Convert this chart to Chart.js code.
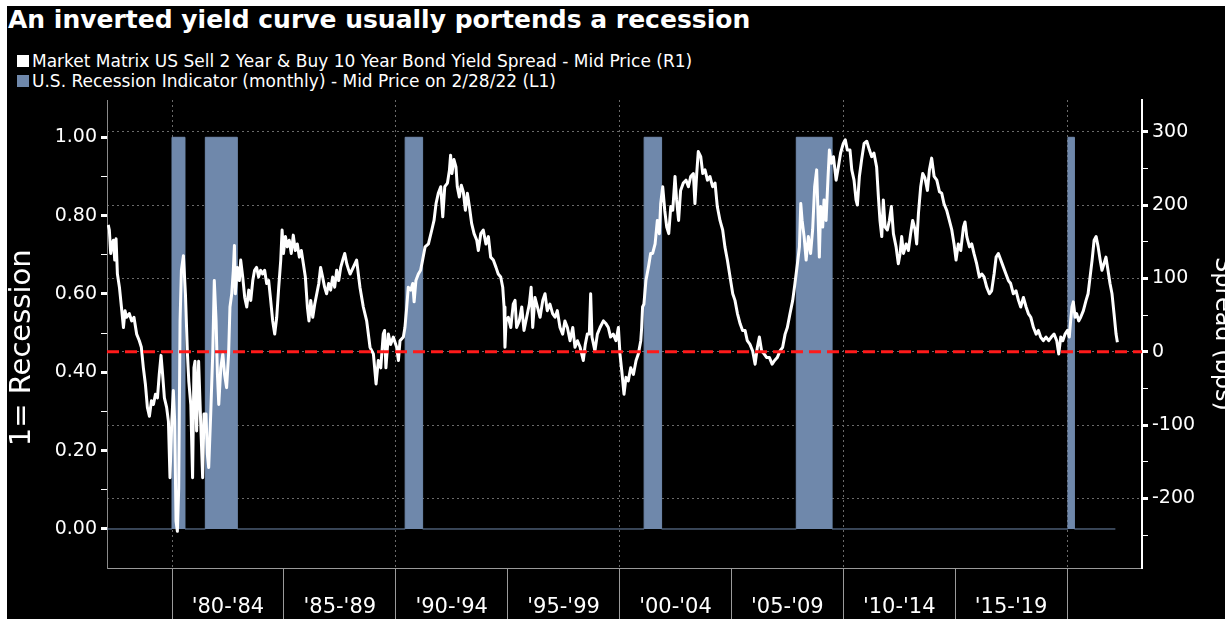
<!DOCTYPE html>
<html>
<head>
<meta charset="utf-8">
<script src="https://cdn.jsdelivr.net/npm/chart.js@4.4.1/dist/chart.umd.min.js"></script>
<style>
    html, body { margin: 0; padding: 0; background: #fff; overflow: hidden; }
    #frame { position: absolute; left: 7px; top: 6px; width: 1218px; height: 613px; background: #000; overflow: hidden; }
    #title { position: absolute; left: 1px; top: -1px; color: #fff; font: bold 25px "DejaVu Sans", sans-serif; line-height: 30px; white-space: nowrap; }
    .legend-row { position: absolute; left: 10px; color: #fff; font: 17px "DejaVu Sans", sans-serif; line-height: 20px; white-space: nowrap; }
    .legend-row .box { display: inline-block; width: 12px; height: 12px; margin-right: 3px; }
    #chart { position: absolute; left: 0; top: 0; }
</style>
</head>
<body>
<div id="frame">
    <div id="title">An inverted yield curve usually portends a recession</div>
    <div class="legend-row" style="top:45px"><span class="box" style="background:#fff"></span>Market Matrix US Sell 2 Year &amp; Buy 10 Year Bond Yield Spread - Mid Price (R1)</div>
    <div class="legend-row" style="top:65px"><span class="box" style="background:#6f88ab"></span>U.S. Recession Indicator (monthly) - Mid Price on 2/28/22 (L1)</div>
    <canvas id="chart" width="1218" height="613"></canvas>
</div>
<script>
// 2s10s spread (bps)
const spreadYears = [
    1977.15, 1977.20, 1977.26, 1977.32, 1977.38, 1977.44, 1977.50, 1977.56, 1977.65, 1977.74, 1977.83, 1977.90, 1977.97,
    1978.09, 1978.20, 1978.30, 1978.42, 1978.54, 1978.63, 1978.72, 1978.81, 1978.90, 1978.99,
    1979.08, 1979.17, 1979.26, 1979.35, 1979.43, 1979.51, 1979.58, 1979.66, 1979.76, 1979.84, 1979.91, 1979.99,
    1980.06, 1980.12, 1980.18, 1980.24, 1980.30, 1980.36, 1980.42, 1980.51, 1980.60, 1980.69, 1980.75, 1980.84, 1980.92, 1980.98,
    1981.03, 1981.10, 1981.19, 1981.28, 1981.37, 1981.43, 1981.52, 1981.58, 1981.64, 1981.73, 1981.82, 1981.89, 1981.97,
    1982.03, 1982.09, 1982.18, 1982.27, 1982.35, 1982.44, 1982.53, 1982.59, 1982.67, 1982.74, 1982.79, 1982.83, 1982.92,
    1983.01, 1983.07, 1983.16, 1983.25, 1983.34, 1983.43, 1983.52, 1983.61, 1983.69, 1983.78, 1983.87, 1983.96,
    1984.05, 1984.14, 1984.23, 1984.32, 1984.41, 1984.50, 1984.59, 1984.68, 1984.77, 1984.86, 1984.92, 1984.98,
    1985.07, 1985.15, 1985.24, 1985.33, 1985.42, 1985.51, 1985.60, 1985.69, 1985.78, 1985.87, 1985.96,
    1986.05, 1986.12, 1986.20, 1986.29, 1986.38, 1986.47, 1986.56, 1986.64, 1986.73, 1986.82, 1986.91,
    1987.00, 1987.09, 1987.18, 1987.27, 1987.36, 1987.45, 1987.54, 1987.63, 1987.72, 1987.81, 1987.90, 1987.96,
    1988.10, 1988.25, 1988.40, 1988.55, 1988.70, 1988.85, 1989.00, 1989.12, 1989.22, 1989.33, 1989.44, 1989.50,
    1989.56, 1989.67, 1989.77, 1989.89, 1990.04, 1990.12, 1990.19, 1990.34, 1990.41, 1990.49, 1990.56, 1990.67,
    1990.76, 1990.82, 1990.90, 1991.01, 1991.11, 1991.20, 1991.31, 1991.46, 1991.61, 1991.71, 1991.80, 1991.90,
    1992.01, 1992.10, 1992.19, 1992.31, 1992.40, 1992.45, 1992.51, 1992.60, 1992.69, 1992.75, 1992.84, 1992.93,
    1993.02, 1993.11, 1993.20, 1993.29, 1993.39, 1993.50, 1993.62, 1993.69, 1993.80, 1993.91,
    1994.03, 1994.14, 1994.24, 1994.36, 1994.48, 1994.58, 1994.69, 1994.78, 1994.84, 1994.88, 1994.93,
    1995.03, 1995.14, 1995.25, 1995.33, 1995.40, 1995.52, 1995.63, 1995.73, 1995.85, 1995.97,
    1996.05, 1996.12, 1996.22, 1996.33, 1996.45, 1996.57, 1996.67, 1996.77, 1996.89,
    1997.01, 1997.12, 1997.22, 1997.34, 1997.46, 1997.56, 1997.67, 1997.79, 1997.91,
    1998.01, 1998.12, 1998.24, 1998.38, 1998.47, 1998.56, 1998.65, 1998.71, 1998.77, 1998.90,
    1999.01, 1999.13, 1999.28, 1999.40, 1999.50, 1999.60, 1999.72, 1999.84, 1999.95,
    2000.02, 2000.10, 2000.20, 2000.29, 2000.39, 2000.50, 2000.62, 2000.74, 2000.84, 2000.95, 2000.99,
    2001.03, 2001.09, 2001.18, 2001.29, 2001.39, 2001.48, 2001.59, 2001.69, 2001.78, 2001.84, 2001.93,
    2002.02, 2002.11, 2002.20, 2002.29, 2002.38, 2002.48, 2002.55, 2002.64, 2002.73, 2002.85, 2002.97,
    2003.08, 2003.18, 2003.30, 2003.37, 2003.45, 2003.52, 2003.63, 2003.72, 2003.82, 2003.93,
    2004.04, 2004.16, 2004.27, 2004.37, 2004.49, 2004.61, 2004.71, 2004.82, 2004.94,
    2005.06, 2005.16, 2005.27, 2005.39, 2005.50, 2005.61, 2005.71, 2005.83, 2005.95,
    2006.06, 2006.16, 2006.25, 2006.35, 2006.46, 2006.58, 2006.70, 2006.82, 2006.93,
    2007.05, 2007.17, 2007.29, 2007.40, 2007.50, 2007.62, 2007.74, 2007.84, 2007.95,
    2008.04, 2008.10, 2008.16, 2008.25, 2008.34, 2008.44, 2008.54, 2008.63, 2008.72, 2008.81, 2008.87, 2008.93, 2008.99,
    2009.08, 2009.14, 2009.23, 2009.32, 2009.38, 2009.47, 2009.56, 2009.68, 2009.78, 2009.88,
    2010.00, 2010.09, 2010.18, 2010.30, 2010.38, 2010.48, 2010.57, 2010.63, 2010.72, 2010.82, 2010.93,
    2011.05, 2011.17, 2011.27, 2011.37, 2011.49, 2011.57, 2011.64, 2011.72, 2011.79, 2011.87, 2011.97,
    2012.06, 2012.15, 2012.24, 2012.36, 2012.46, 2012.54, 2012.61, 2012.69, 2012.81, 2012.91,
    2013.01, 2013.10, 2013.21, 2013.28, 2013.36, 2013.46, 2013.55, 2013.65, 2013.76, 2013.85, 2013.95,
    2014.06, 2014.18, 2014.30, 2014.40, 2014.50, 2014.62, 2014.74, 2014.85, 2014.95,
    2015.04, 2015.14, 2015.25, 2015.37, 2015.44, 2015.52, 2015.64, 2015.74, 2015.84, 2015.96,
    2016.08, 2016.19, 2016.29, 2016.41, 2016.53, 2016.63, 2016.74, 2016.83, 2016.93,
    2017.04, 2017.16, 2017.27, 2017.38, 2017.48, 2017.60, 2017.72, 2017.83, 2017.93,
    2018.05, 2018.17, 2018.27, 2018.38, 2018.50, 2018.62, 2018.72, 2018.82, 2018.94,
    2019.06, 2019.18, 2019.30, 2019.42, 2019.54, 2019.63, 2019.72, 2019.81, 2019.91,
    2020.02, 2020.10, 2020.16, 2020.22, 2020.28, 2020.36, 2020.43, 2020.52, 2020.61, 2020.73, 2020.85, 2020.94,
    2021.03, 2021.12, 2021.21, 2021.30, 2021.39, 2021.48, 2021.56, 2021.65, 2021.74, 2021.83, 2021.92,
    2022.01, 2022.10, 2022.19, 2022.25
];
const spreadBps = [
    173, 166, 134, 147, 152, 125, 154, 106, 88, 61, 33, 56, 47,
    52, 42, 47, 24, 15, 6, -22, -44, -76, -88,
    -67, -72, -58, -63, -31, -5, -31, -63, -76, -95, -172, -95,
    -53, -95, -231, -245, -186, 42, 111, 131, 79, -3, -40, -72, -172, -22,
    -13, -108, -13, -95, -172, -85, -85, -140, -158, -85, -3, 97, 42,
    -31, -72, -22, -3, -31, -49, -3, 61, 79, 111, 145, 79, 115,
    97, 125, 102, 74, 61, 84, 70, 97, 111, 115, 102, 111,
    106, 111, 93, 97, 70, 42, 24, 47, 88, 125, 166, 134,
    157, 143, 152, 134, 159, 138, 147, 129, 138, 120, 102,
    61, 42, 70, 47, 65, 79, 93, 115, 102, 88, 79,
    93, 84, 102, 88, 111, 97, 115, 125, 134, 120, 111, 106,
    115, 125, 88, 61, 42, 6, -3, -44, -12, -22, 24, 29,
    -22, 24, 10, 20, 6, -12, 15, 20, 33, 61, 88, 84,
    93, 68, 97, 106, 111, 125, 143, 147, 166, 179, 202, 216,
    225, 184, 225, 230, 248, 268, 243, 262, 252, 225, 211, 227,
    218, 193, 216, 198, 175, 161, 152, 138, 161, 166,
    147, 157, 129, 125, 115, 106, 102, 88, 61, 6, 42,
    47, 33, 65, 70, 33, 42, 61, 29, 47, 65,
    88, 33, 74, 61, 47, 70, 79, 56, 65,
    52, 47, 56, 33, 24, 42, 33, 15, 33,
    6, 15, 6, -12, 10, 24, 24, 79, 20, 1,
    24, 33, 42, 38, 33, 20, 24, 15, 33,
    -3, -26, -58, -35, -40, -22, -31, -12, -3, 15, 33,
    61, 65, 97, 115, 134, 134, 147, 179, 161, 202, 225,
    193, 170, 161, 198, 193, 239, 207, 179, 220, 230, 234,
    225, 239, 243, 202, 243, 273, 266, 243, 248, 234,
    239, 225, 230, 198, 179, 166, 143, 125, 102,
    79, 70, 52, 38, 29, 29, 15, 10, 1,
    -17, 6, 20, 1, -3, -8, -8, -17, -12,
    -8, 1, 6, 24, 33, 52, 70, 93, 120,
    143, 202, 179, 157, 125, 157, 134, 166, 225, 248, 189, 129, 198,
    170, 207, 179, 239, 275, 257, 266, 234, 252, 271,
    284, 289, 275, 275, 248, 234, 207, 200, 239, 262, 284,
    287, 275, 266, 271, 252, 211, 179, 157, 207, 170, 166,
    179, 198, 161, 143, 120, 134, 157, 134, 147, 138,
    161, 179, 166, 147, 189, 225, 243, 237, 220, 248, 264,
    239, 234, 218, 216, 202, 193, 179, 166, 147,
    125, 147, 138, 170, 177, 157, 143, 147, 134, 120,
    102, 106, 102, 88, 79, 83, 106, 129, 134,
    125, 115, 106, 97, 93, 79, 83, 70, 61,
    74, 61, 52, 47, 33, 24, 29, 20, 15,
    20, 15, 20, 24, 15, -3, 20, 15, 24,
    29, 20, 42, 61, 68, 47, 52, 42, 47, 56, 70, 79,
    102, 125, 152, 157, 143, 125, 111, 120, 129, 111, 93,
    79, 52, 24, 13
];

// recession indicator (monthly, 0/1), value holds until the next year
const recessionYears = [1977.10, 1980.00, 1980.58, 1981.49, 1982.92, 1990.42, 1991.20, 2001.10, 2001.88, 2007.90, 2009.50, 2020.04, 2020.33, 2022.16];
const recessionFlag  = [0, 1, 0, 1, 0, 1, 0, 1, 0, 1, 0, 1, 0, 0];

// axes
const xMin = 1977.095;
const xMax = 2023.35;
const separatorYears = [1980, 1985, 1990, 1995, 2000, 2005, 2010, 2015, 2020];
const periodYears = [1982.5, 1987.5, 1992.5, 1997.5, 2002.5, 2007.5, 2012.5, 2017.5];
const periodLabels = ["'80-'84", "'85-'89", "'90-'94", "'95-'99", "'00-'04", "'05-'09", "'10-'14", "'15-'19"];
const leftTicks = [0, 0.1, 0.2, 0.3, 0.4, 0.5, 0.6, 0.7, 0.8, 0.9, 1.0];
const rightTicks = [-250, -200, -150, -100, -50, 0, 50, 100, 150, 200, 250, 300];

const BLUE = '#6f88ab';
const GRID = '#6a6a6a';

const toPoints = (xs, ys) => xs.map((x, i) => ({ x: x, y: ys[i] }));

Chart.defaults.font.family = '"DejaVu Sans", sans-serif';
Chart.defaults.color = '#fff';

const ctx = document.getElementById('chart');

new Chart(ctx, {
    type: 'line',
    data: {
        datasets: [
            {
                label: 'zero',
                data: toPoints([xMin, xMax], [0, 0]),
                yAxisID: 'y1',
                borderColor: '#ff1a1a',
                borderWidth: 3,
                borderDash: [12, 6],
                pointRadius: 0,
                fill: false
            },
            {
                label: 'Market Matrix US Sell 2 Year & Buy 10 Year Bond Yield Spread - Mid Price (R1)',
                data: toPoints(spreadYears, spreadBps),
                yAxisID: 'y1',
                borderColor: '#ffffff',
                borderWidth: 3,
                borderJoinStyle: 'round',
                pointRadius: 0,
                tension: 0,
                fill: false
            },
            {
                label: 'U.S. Recession Indicator (monthly) - Mid Price on 2/28/22 (L1)',
                data: toPoints(recessionYears, recessionFlag),
                yAxisID: 'y',
                stepped: 'before',
                borderColor: BLUE,
                backgroundColor: BLUE,
                borderWidth: 1,
                pointRadius: 0,
                fill: 'origin'
            }
        ]
    },
    options: {
        responsive: false,
        animation: false,
        layout: { padding: { top: 94, left: 0, right: 0, bottom: 0 } },
        plugins: {
            legend: { display: false },
            tooltip: { enabled: false }
        },
        scales: {
            x: {
                type: 'linear',
                min: xMin,
                max: xMax,
                afterBuildTicks: (scale) => {
                    scale.ticks = separatorYears.concat(periodYears).sort((a, b) => a - b).map(v => ({ value: v }));
                },
                afterFit: (scale) => { scale.height = 51; },
                ticks: {
                    autoSkip: false,
                    maxRotation: 0,
                    color: '#fff',
                    font: { size: 21 },
                    padding: -24,
                    callback: (value) => {
                        const i = periodYears.indexOf(value);
                        return i >= 0 ? periodLabels[i] : '';
                    }
                },
                grid: {
                    drawOnChartArea: true,
                    color: (c) => (c.tick && c.tick.value % 10 === 0) ? GRID : 'rgba(0,0,0,0)',
                    tickLength: 51,
                    tickColor: (c) => (c.tick && c.tick.value % 5 === 0) ? '#9a9a9a' : 'rgba(0,0,0,0)',
                    tickWidth: 1,
                    tickBorderDash: []
                },
                border: { display: true, color: '#9a9a9a', width: 1, dash: [2, 3] }
            },
            y: {
                position: 'left',
                min: -0.0996,
                max: 1.0952,
                afterBuildTicks: (scale) => { scale.ticks = leftTicks.map(v => ({ value: v })); },
                afterFit: (scale) => { scale.width = 100; },
                ticks: {
                    color: '#fff',
                    font: { size: 19 },
                    padding: 4,
                    callback: (value) => Math.round(value * 10) % 2 === 0 ? value.toFixed(2) : ''
                },
                grid: {
                    drawOnChartArea: false,
                    tickLength: 6,
                    tickColor: '#fff',
                    tickWidth: (c) => (c.tick && Math.round(c.tick.value * 10) % 2 === 0) ? 3 : 1
                },
                border: { display: true, color: '#8a8a8a', width: 1 },
                title: {
                    display: true,
                    // trailing spaces push the text a little below centre, like the original
                    text: '1= Recession   ',
                    color: '#fff',
                    font: { size: 29 },
                    padding: { top: -2, bottom: 0 }
                }
            },
            y1: {
                position: 'right',
                min: -295,
                max: 343.3,
                afterBuildTicks: (scale) => { scale.ticks = rightTicks.map(v => ({ value: v })); },
                afterFit: (scale) => { scale.width = 83; },
                ticks: {
                    color: '#fff',
                    font: { size: 19 },
                    padding: 4,
                    callback: (value) => value % 100 === 0 ? String(value) : ''
                },
                grid: {
                    drawOnChartArea: true,
                    color: (c) => (c.tick && c.tick.value % 100 === 0) ? GRID : 'rgba(0,0,0,0)',
                    tickLength: 6,
                    tickColor: '#fff',
                    tickWidth: (c) => (c.tick && c.tick.value % 100 === 0) ? 3 : 1,
                    tickBorderDash: []
                },
                border: { display: true, color: '#ffffff', width: 2, dash: [2, 3] },
                title: {
                    display: true,
                    text: 'Spread (bps)',
                    color: '#fff',
                    font: { size: 24 },
                    padding: { top: -12, bottom: 0 }
                }
            }
        }
    }
});
</script>
</body>
</html>
